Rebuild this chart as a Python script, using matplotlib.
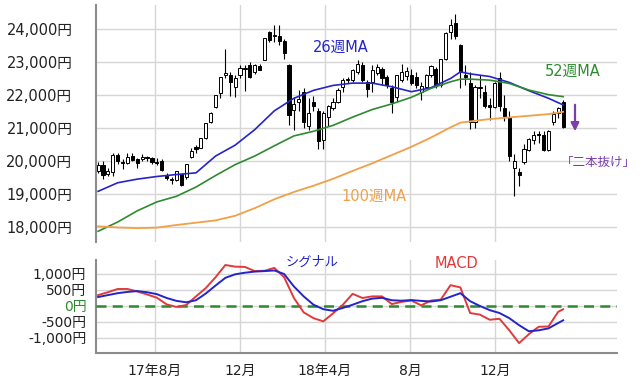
import numpy as np
import pandas as pd
import matplotlib
matplotlib.use('Agg')
import matplotlib.pyplot as plt
import matplotlib.dates as mdates

plt.rcParams['font.family'] = ['DejaVu Sans', 'Noto Sans CJK JP']

# weekly candles (week ending Friday)
weeks = pd.date_range('2017-05-12', periods=96, freq='7D')

opens = [19700, 19880, 19620, 19680, 20170, 19960, 19950, 20150, 20050, 20050,
         20110, 20080, 19960, 20000, 19540, 19430, 19420, 19600, 19500, 20130,
         20420, 20390, 20700, 21180, 21640, 22050, 22600, 22600, 22250, 22600,
         22800, 22900, 22700, 22870, 23060, 23900, 23780, 23800, 23650, 22900,
         21550, 21800, 22100, 21050, 21800, 21500, 20650, 21330, 21600, 21800,
         22250, 22450, 22450, 22700, 22900, 22400, 22390, 22670, 22800, 22550,
         22200, 21950, 22450, 22570, 22600, 22550, 22100, 22250, 22600, 22800,
         22300, 23100, 23900, 24170, 23500, 22600, 22360, 21190, 22200, 22100,
         21700, 21650, 22500, 21600, 21330, 19785, 19655, 19970, 20330, 20650,
         20800, 20790, 20330, 21180, 21450, 21790]
highs = [19960, 19998, 19800, 20240, 20240, 20050, 20230, 20250, 20100, 20200,
         20150, 20130, 20080, 20070, 19640, 19500, 19700, 19620, 19920, 20400,
         20480, 20700, 21160, 21470, 22010, 22540, 23380, 22700, 22600, 22900,
         22900, 23000, 22950, 22950, 23730, 23950, 24130, 24130, 23700, 22950,
         21950, 22150, 22200, 21900, 21970, 21600, 21500, 21700, 21900, 22200,
         22500, 22550, 22800, 23050, 23000, 22450, 22900, 22950, 22850, 22600,
         22300, 22600, 22950, 22850, 22800, 22700, 22400, 22650, 22900, 22850,
         23100, 23900, 24300, 24450, 23550, 22900, 22700, 22300, 22600, 22300,
         21900, 22400, 22700, 22000, 21500, 20211, 19800, 20500, 20700, 20900,
         20900, 20900, 20950, 21500, 21650, 21860]
lows = [19650, 19450, 19550, 19560, 19900, 19770, 19900, 19990, 19800, 20000,
        19990, 19920, 19890, 19700, 19420, 19300, 19380, 19240, 19450, 20100,
        20250, 20380, 20680, 21150, 21600, 21900, 22500, 21970, 21950, 22500,
        22120, 22500, 22650, 22760, 23050, 23600, 23600, 23500, 23100, 21100,
        20950, 21500, 21000, 20950, 21500, 20350, 20350, 21050, 21550, 21750,
        22100, 22350, 22400, 22650, 22400, 21930, 22100, 22600, 22300, 22200,
        21460, 21800, 22400, 22450, 22300, 22200, 21850, 22200, 22550, 22200,
        22250, 23050, 23700, 23700, 22200, 22300, 20970, 21000, 21900, 21600,
        21250, 21600, 21500, 21200, 20000, 18948, 19240, 19900, 20300, 20500,
        20550, 20300, 20300, 21100, 21300, 21000]
closes = [19883, 19590, 19686, 20177, 20013, 19943, 20132, 20033, 19929, 20118,
          20099, 19959, 19952, 19729, 19470, 19452, 19691, 19274, 19909, 20296,
          20356, 20690, 21155, 21457, 22008, 22539, 22681, 22397, 22500, 22819,
          22811, 22553, 22902, 22765, 23714, 23653, 23808, 23631, 23274, 21383,
          21720, 21892, 21182, 21469, 21676, 20617, 21454, 21680, 21778, 22162,
          22467, 22472, 22758, 22930, 22450, 22171, 22750, 22851, 22516, 22304,
          21788, 22597, 22697, 22712, 22360, 22298, 22270, 22601, 22865, 22307,
          23094, 23869, 24120, 23783, 22694, 22532, 21184, 22243, 22250, 21680,
          21647, 22351, 21679, 21374, 20166, 20014, 19561, 20359, 20666, 20773,
          20788, 20333, 20900, 21425, 21602, 21025]

# moving averages read at these week indices
ma_weeks = [0, 4, 8, 12, 16, 20, 24, 28, 32, 36, 40, 44, 48, 52, 56, 60, 64,
            68, 72, 74, 76, 80, 84, 88, 92, 95]
ma26 = [19080, 19340, 19450, 19530, 19590, 19640, 20150, 20480, 20950, 21520,
        21900, 22140, 22290, 22360, 22360, 22250, 22100, 22220, 22500, 22700,
        22640, 22560, 22380, 22130, 21900, 21700]
ma52 = [17870, 18150, 18490, 18760, 18930, 19210, 19560, 19890, 20150, 20460,
        20760, 20900, 21080, 21330, 21560, 21730, 21930, 22200, 22400, 22480,
        22480, 22450, 22350, 22150, 22010, 21950]
ma100 = [18020, 17985, 17965, 17980, 18060, 18130, 18200, 18340, 18570, 18840,
         19060, 19250, 19460, 19700, 19930, 20180, 20430, 20710, 21020, 21160,
         21200, 21270, 21320, 21370, 21420, 21490]

# MACD / signal read every two weeks
macd_weeks = list(range(0, 96, 2)) + [95]
macd = [340, 430, 531, 531, 455, 360, 260, 50, -30, 30, 300, 560, 900, 1281,
        1229, 1220, 1090, 1100, 1190, 900, 250, -200, -380, -480, -230, 40,
        380, 250, 300, 300, 60, 130, 170, 20, 170, 200, 650, 580, -220, -270,
        -430, -400, -760, -1160, -880, -650, -640, -180, -104]
signal = [280, 340, 400, 440, 465, 430, 370, 250, 160, 115, 180, 390, 640, 880,
          990, 1040, 1075, 1090, 1110, 1000, 610, 300, 40, -100, -150, -60,
          40, 150, 230, 255, 180, 165, 185, 160, 140, 180, 290, 400, 150, 0,
          -130, -220, -380, -600, -790, -760, -700, -530, -448]

month_ticks = pd.to_datetime(['2017-08-01', '2017-12-01', '2018-04-01',
                              '2018-08-01', '2018-12-01'])
month_labels = ['17年8月', '12月', '18年4月', '8月', '12月']
price_ticks = [18000, 19000, 20000, 21000, 22000, 23000, 24000]
macd_ticks = [1000, 500, 0, -500, -1000]

BLUE = '#2424c8'
GREEN = '#2f8a2f'
ORANGE = '#f0a048'
RED = '#e23a3a'
PURPLE = '#7a3fa8'
GRID = '#d6d6d6'
SPINE = '#8c8c8c'
TXT = '#222222'

W, H = 640, 383
fig = plt.figure(figsize=(W / 100, H / 100), dpi=100)
ax1 = fig.add_axes([96 / W, 1 - 242 / H, 521 / W, 237 / H])
ax2 = fig.add_axes([96 / W, 1 - 353 / H, 521 / W, 93 / H])

x = mdates.date2num(weeks)
o, hi, lo, c = map(np.array, (opens, highs, lows, closes))
up = c >= o

# candles
ax1.vlines(x, lo, hi, color='black', lw=0.8, zorder=3)
ax1.bar(x, np.maximum(np.abs(c - o), 25), bottom=np.minimum(o, c), width=4.5,
        color=np.where(up, 'white', 'black'), edgecolor='black', linewidth=0.7,
        zorder=4)

ax1.plot(x[ma_weeks], ma26, color=BLUE, lw=1.2, zorder=5)
ax1.plot(x[ma_weeks], ma52, color=GREEN, lw=1.2, zorder=5)
ax1.plot(x[ma_weeks], ma100, color=ORANGE, lw=1.3, zorder=5)

ax2.plot(x[macd_weeks], macd, color=RED, lw=1.4, zorder=4)
ax2.plot(x[macd_weeks], signal, color=BLUE, lw=1.4, zorder=5)
ax2.axhline(0, color=GREEN, lw=1.8, ls=(0, (4, 2.5)), zorder=3)

xmin = mdates.date2num(pd.Timestamp('2017-05-09'))
xmax = mdates.date2num(pd.Timestamp('2019-05-24'))
for ax in (ax1, ax2):
    ax.set_xlim(xmin, xmax)
    ax.set_xticks(mdates.date2num(month_ticks))
    ax.grid(True, color=GRID, lw=1)
    ax.set_axisbelow(True)
    for s in ('top', 'right'):
        ax.spines[s].set_visible(False)
    ax.spines['left'].set_color(SPINE)
    ax.spines['left'].set_linewidth(1.5)
    ax.spines['bottom'].set_color(SPINE)
    ax.spines['bottom'].set_linewidth(1.5)
    ax.tick_params(length=0, colors=TXT)

ax1.spines['bottom'].set_visible(False)
ax1.set_ylim(17545, 24727)
ax1.set_yticks(price_ticks)
ax1.set_yticklabels([f'{v:,}円' for v in price_ticks], fontsize=10.5)
ax1.tick_params(axis='y', pad=17)
ax1.tick_params(axis='x', labelbottom=False)

ax2.set_ylim(-1469, 1437)
ax2.set_yticks(macd_ticks)
ax2.set_yticklabels([f'{v:,}円' for v in macd_ticks], fontsize=10)
ax2.tick_params(axis='y', pad=7)
for t in ax2.get_yticklabels():
    if t.get_text() == '0円':
        t.set_color(GREEN)
ax2.set_xticklabels(month_labels, fontsize=10)
ax2.tick_params(axis='x', pad=8)


def label(px, py, s, color, size=10.5):
    fig.text(px / W, 1 - py / H, s, color=color, fontsize=size,
             ha='center', va='center')


label(341, 47, '26週MA', BLUE)
label(573, 71, '52週MA', GREEN)
label(374, 196, '100週MA', ORANGE)
label(598, 162, '「二本抜け」', PURPLE, 9)
label(312, 262, 'シグナル', BLUE, 9.5)
label(456, 264, 'MACD', RED)

ax1.annotate('', xy=(575 / W, 1 - 134 / H), xytext=(575 / W, 1 - 102 / H),
             xycoords='figure fraction',
             arrowprops=dict(arrowstyle='-|>', color=PURPLE, lw=1.6,
                             mutation_scale=12))

fig.savefig('out.png', dpi=100)
